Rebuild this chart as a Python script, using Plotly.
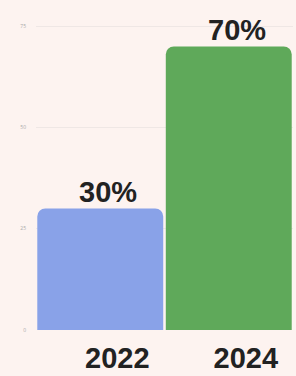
import plotly.graph_objects as go

years = ["2022", "2024"]
values = [30, 70]
labels = ["30%", "70%"]
colors = ["#89a2e8", "#5fa95a"]
y_ticks = [0, 25, 50, 75]

fig = go.Figure(go.Bar(
    x=years, y=values,
    marker=dict(color=colors, line=dict(width=0)),
))
for i, (v, lab) in enumerate(zip(values, labels)):
    fig.add_annotation(x=i, y=v, xref="x", yref="y", text=lab, showarrow=False,
                       yanchor="bottom", xshift=8, yshift=-2,
                       font=dict(family="Liberation Sans", size=29, color="#222222", weight="bold"))
fig.update_layout(
    width=296, height=376,
    margin=dict(l=36, r=3, t=12, b=46),
    paper_bgcolor="#fdf3f0", plot_bgcolor="#fdf3f0",
    bargap=0.02, barcornerradius=8,
    showlegend=False,
)
fig.update_yaxes(range=[0, 78.5], tickvals=y_ticks, ticktext=[str(v) for v in y_ticks],
                 tickfont=dict(size=5, color="#aaaaaa"), showgrid=True,
                 gridcolor="#efe7e5", gridwidth=1, zeroline=False, ticklabelstandoff=9)
fig.update_xaxes(type="category", categoryorder="array", categoryarray=years,
                 range=[-0.5, len(years) - 0.5],
                 tickfont=dict(family="Liberation Sans", size=29, color="#222222", weight="bold"),
                 ticklabelstandoff=8, ticklabelshift=17)
fig.write_html("out.html", config={"displayModeBar": False},
               post_script="document.body.style.margin='0px';")
